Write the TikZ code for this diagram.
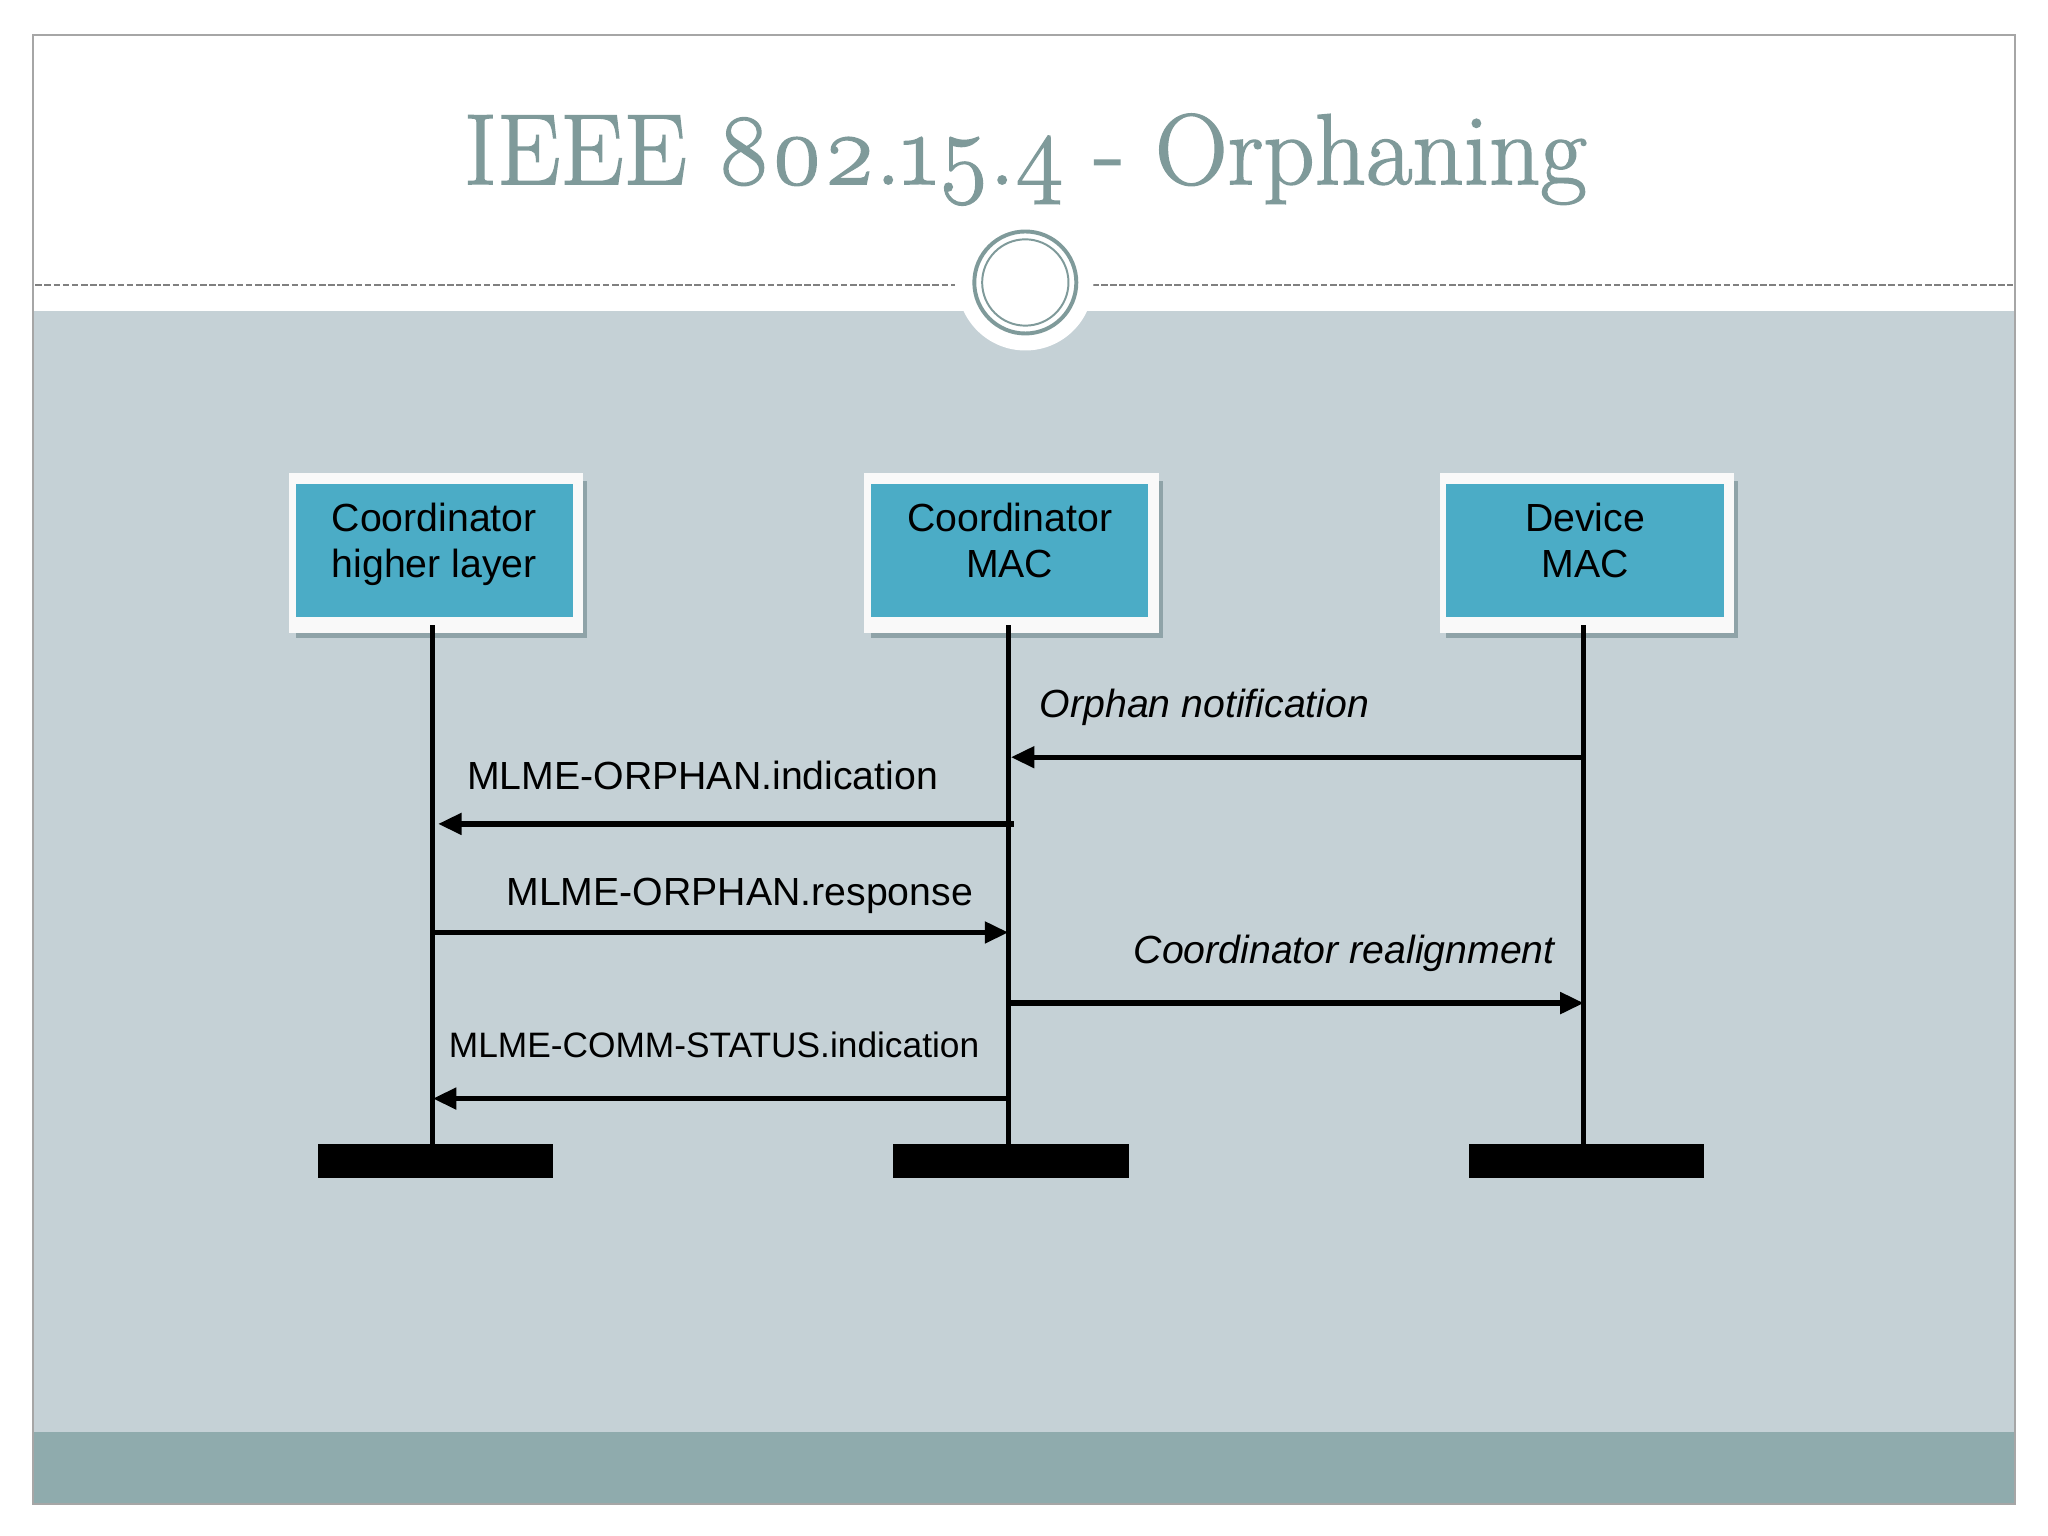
\documentclass[tikz,border=0pt]{standalone}
\usepackage{fontspec}
\setsansfont{Liberation Sans}
\newfontfamily\titlefont[Numbers=OldStyle,FakeBold=1.5]{Latin Modern Roman}
\usetikzlibrary{arrows.meta}
\definecolor{bgblue}{HTML}{C5D1D6}
\definecolor{band}{HTML}{8FABAD}
\definecolor{titlec}{HTML}{7F9A9A}
\definecolor{boxc}{HTML}{4BACC6}
\definecolor{shadowc}{HTML}{8FA3A8}
\tikzset{
 life/.style={line width=4pt},
 msg/.style={line width=4pt,-{Triangle[length=18pt,width=16pt]}},
 lbl/.style={font=\sffamily\fontsize{30}{34}\selectfont,inner sep=0pt},
 bar/.style={fill=black,draw=none},
}
\begin{document}
\begin{tikzpicture}[x=1pt,y=-1pt]
\useasboundingbox (0,0) rectangle (1566,1174.5);
\fill[white] (0,0) rectangle (1566,1174.5);
\fill[bgblue] (25,238) rectangle (1541,1095);
\fill[band] (25,1095) rectangle (1541,1150);
\draw[gray!70,line width=1.5pt] (25,27) rectangle (1541,1150);
\draw[gray,dash pattern=on 5pt off 2pt,line width=1pt] (27,218) -- (730,218);
\draw[gray,dash pattern=on 5pt off 2pt,line width=1pt] (835,218) -- (1539,218);
\fill[white] (784,216) circle (52);
\draw[titlec,line width=3pt] (784,216) circle (39);
\draw[titlec,line width=1.5pt] (784,216) circle (33);
\node[titlec,font=\titlefont\fontsize{77}{90}\selectfont] (title) at (784,122) {IEEE 802.15.4 - Orphaning};
% boxes
\foreach \n/\x/\t in {a/331/{Coordinator\\higher layer},b/771/{Coordinator\\MAC},c/1211/{Device\\MAC}}{
  \fill[shadowc] (\x-105,368) rectangle (\x+118,488);
  \fill[white!95!gray] (\x-110,362) rectangle (\x+115,484);
  \node[fill=boxc,minimum width=212pt,minimum height=102pt,inner sep=0pt] (\n) at (\x+1,421) {};
  \node[align=center,font=\sffamily\fontsize{30}{35}\selectfont,anchor=north] at (\x+1,381) {\t};
  \coordinate (\n top) at (\x,478);
  \coordinate (\n bot) at (\x,878);
  \draw[life] (\n top) -- (\n bot);
  \fill[bar] (\x-88,875) rectangle (\x+92,901);
}
% messages
\coordinate (c1) at (1211,579); \coordinate (b1) at (773,579);
\draw[msg] (c1) -- (b1);
\node[lbl,anchor=west,font=\sffamily\itshape\fontsize{30}{34}\selectfont] (l1) at (795,541) {Orphan notification};
\coordinate (b2) at (775,630); \coordinate (a2) at (335,630);
\draw[msg] (b2) -- (a2);
\node[lbl,anchor=west] (l2) at (357,593) {MLME-ORPHAN.indication};
\coordinate (a3) at (331,713); \coordinate (b3) at (771,713);
\draw[msg] (a3) -- (b3);
\node[lbl,anchor=west] (l3) at (387,685) {MLME-ORPHAN.response};
\coordinate (b4) at (771,767); \coordinate (c4) at (1211,767);
\draw[msg] (b4) -- (c4);
\node[lbl,anchor=east,font=\sffamily\itshape\fontsize{30}{34}\selectfont] (l4) at (1189,729) {Coordinator realignment};
\coordinate (b5) at (771,840); \coordinate (a5) at (331,840);
\draw[msg] (b5) -- (a5);
\node[lbl,anchor=west,font=\sffamily\fontsize{27}{30}\selectfont] (l5) at (343,799) {MLME-COMM-STATUS.indication};
\end{tikzpicture}
\end{document}
